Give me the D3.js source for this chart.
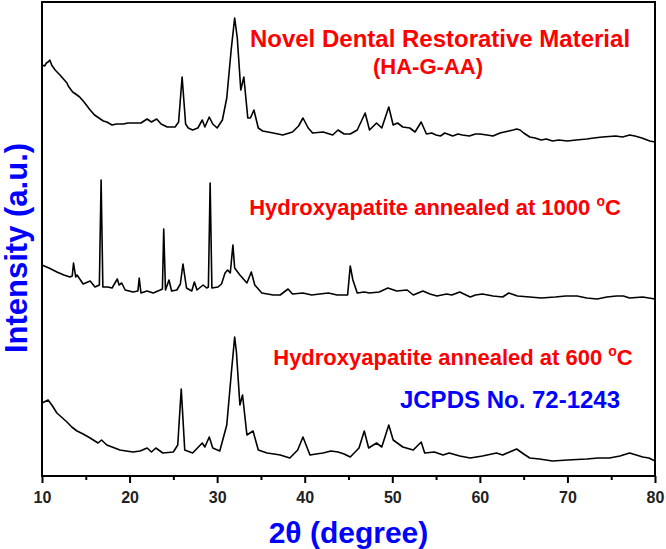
<!DOCTYPE html>
<html>
<head>
<meta charset="utf-8">
<script src="https://cdn.jsdelivr.net/npm/d3@7"></script>
<style>
    body { margin: 0; background: #fff; }
    text { font-family: Arial, "Liberation Sans", sans-serif; font-weight: bold; }
</style>
</head>
<body>
<div id="xrd"></div>
<script>
//----------------------------
// Data (2theta, stacked intensity a.u.)
//----------------------------
var haGaaData = [
    [10.0, 411], [10.3, 410], [10.5, 413], [10.7, 414], [10.9, 416], [11.1, 411], [11.5, 406],
    [12.05, 401], [12.85, 393], [13.0, 390], [13.5, 384], [14.0, 381], [14.3, 379], [14.8, 374],
    [15.5, 366], [15.8, 363], [16.0, 361], [16.5, 358], [17.0, 355], [17.4, 354], [18.0, 351],
    [18.5, 352], [19.3, 352], [19.8, 353], [20.4, 353], [21.3, 353], [22.0, 357], [22.5, 354],
    [23.1, 357], [23.6, 352], [24.3, 349], [25.2, 349], [25.6, 354], [26.0, 399], [26.4, 352],
    [26.7, 348], [27.2, 346], [27.8, 348], [28.3, 356], [28.6, 349], [29.1, 359], [29.5, 352],
    [30.0, 348], [30.6, 356], [31.1, 378], [31.6, 426], [32.0, 458], [32.3, 438], [32.7, 386],
    [33.05, 399], [33.5, 358], [33.8, 358], [34.2, 366], [34.7, 348], [35.2, 345], [36.4, 343],
    [37.5, 341], [38.6, 344], [39.3, 350], [39.8, 358], [40.4, 348], [40.9, 343], [42.1, 344],
    [43.2, 341], [43.8, 346], [44.5, 342], [45.2, 342], [46.0, 346], [46.9, 363], [47.4, 346],
    [48.2, 353], [48.8, 348], [49.6, 369], [50.1, 351], [50.6, 353], [51.2, 349], [52.0, 348],
    [52.6, 344], [53.3, 354], [53.9, 342], [54.5, 343], [55.0, 341], [55.5, 340], [56.0, 343],
    [56.9, 340], [57.5, 342], [58.0, 341], [58.8, 340], [59.5, 342], [60.0, 342], [60.8, 341],
    [61.5, 340], [62.3, 343], [63.3, 345], [63.8, 346], [64.2, 347], [64.6, 346], [65.0, 343],
    [65.7, 339], [66.3, 338], [67.0, 336], [67.6, 337], [68.3, 335], [69.0, 336], [70.0, 335],
    [71.0, 336], [72.2, 337], [73.0, 338], [74.0, 339], [75.5, 340], [76.3, 339], [77.1, 341],
    [77.7, 340], [78.5, 338], [79.4, 335], [80.0, 334]
];

var ha1000Data = [
    [10.0, 211], [10.8, 208], [11.7, 204], [12.5, 201], [13.2, 199], [13.45, 200], [13.6, 213],
    [13.85, 199], [14.0, 201], [14.7, 192], [15.5, 195], [16.05, 189], [16.55, 191], [16.75, 296],
    [16.95, 189], [17.5, 189], [18.0, 188], [18.6, 197], [18.8, 191], [19.1, 193], [19.5, 186],
    [20.4, 184], [20.95, 185], [21.1, 198], [21.3, 183], [22.0, 185], [22.7, 183], [23.5, 186],
    [23.75, 187], [23.9, 247], [24.1, 186], [24.5, 196], [24.8, 185], [25.4, 186], [25.8, 192],
    [26.1, 212], [26.5, 188], [27.1, 185], [27.4, 194], [27.7, 186], [28.4, 191], [28.8, 188],
    [29.0, 189], [29.2, 293], [29.4, 188], [30.1, 189], [30.5, 192], [30.9, 203], [31.2, 206],
    [31.5, 203], [31.8, 231], [32.0, 208], [32.6, 201], [33.4, 193], [33.9, 204], [34.3, 191],
    [35.1, 183], [36.4, 181], [37.2, 181], [38.1, 187], [38.6, 182], [39.8, 183], [40.8, 181],
    [41.7, 182], [42.7, 183], [43.7, 181], [44.9, 181], [45.2, 210], [45.5, 196], [46.0, 183],
    [46.8, 184], [47.4, 183], [48.5, 184], [49.5, 188], [50.5, 185], [51.7, 186], [52.4, 181],
    [53.5, 185], [54.3, 182], [55.1, 180], [56.2, 182], [56.8, 181], [57.7, 184], [58.9, 179],
    [59.5, 181], [60.3, 182], [61.5, 180], [62.6, 179], [63.3, 183], [64.3, 180], [65.7, 179],
    [67.0, 178], [68.6, 179], [69.8, 180], [71.1, 180], [72.2, 178], [73.4, 177], [74.5, 179],
    [75.6, 180], [76.4, 180], [77.1, 178], [78.6, 179], [79.3, 178], [80.0, 177]
];

var ha600Data = [
    [10.0, 73], [10.7, 76], [11.2, 70], [11.7, 63], [12.85, 54], [13.4, 49], [14.0, 45],
    [14.7, 42], [15.5, 38], [16.4, 33], [16.8, 36], [17.4, 31], [18.9, 26], [19.6, 25],
    [20.4, 24], [21.2, 25], [22.0, 28], [22.5, 24], [23.0, 28], [23.8, 23], [25.0, 24],
    [25.5, 31], [25.9, 87], [26.3, 26], [27.2, 23], [28.3, 33], [28.6, 29], [29.1, 39],
    [29.5, 28], [30.3, 25], [31.1, 51], [31.6, 101], [32.0, 139], [32.2, 124], [32.6, 71],
    [32.9, 81], [33.4, 41], [34.1, 45], [34.7, 26], [35.7, 23], [36.5, 22], [37.2, 21],
    [38.3, 18], [39.2, 26], [39.8, 39], [40.6, 21], [41.3, 22], [42.1, 23], [43.0, 25],
    [43.8, 24], [44.5, 22], [45.2, 19], [46.2, 28], [46.8, 45], [47.3, 28], [48.2, 33],
    [48.8, 29], [49.6, 51], [50.1, 36], [51.2, 29], [52.4, 26], [53.3, 34], [53.7, 23],
    [54.8, 24], [55.8, 21], [56.5, 23], [57.7, 20], [58.9, 18], [60.3, 20], [61.9, 23],
    [62.6, 21], [63.4, 24], [64.2, 27], [65.0, 22], [65.7, 18], [66.8, 17], [68.3, 15],
    [70.0, 16], [72.2, 17], [73.5, 18], [74.8, 18], [76.0, 20], [77.1, 23], [78.6, 19],
    [79.3, 18], [80.0, 15]
];

var xTickValues = [10, 20, 30, 40, 50, 60, 70, 80];
var xMinorTicks = [15, 25, 35, 45, 55, 65, 75];
var xTitle = "2\u03B8 (degree)";
var yTitle = "Intensity (a.u.)";

//----------------------------
// Dimensions
//----------------------------
var width = 666, height = 549;
var margin = {top: 2, right: 11, bottom: 73, left: 42},
    pWidth = width - margin.left - margin.right,
    pHeight = height - margin.top - margin.bottom;

var svg = d3.select("#xrd")
    .append("svg")
    .attr("width", width)
    .attr("height", height);

var g = svg.append("g")
    .attr("transform", "translate(" + margin.left + "," + margin.top + ")");

// scales
var xScale = d3.scaleLinear().domain([10, 80]).range([0, pWidth]);
var yScale = d3.scaleLinear().domain([0, pHeight]).range([pHeight, 0]);

var line = d3.line()
    .x(d => xScale(d[0]))
    .y(d => yScale(d[1]));

//----------------------------
// Traces
//----------------------------
[haGaaData, ha1000Data, ha600Data].forEach(function (series) {
    g.append("path")
        .datum(series)
        .attr("fill", "none")
        .attr("stroke", "#000")
        .attr("stroke-width", 1.6)
        .attr("stroke-linejoin", "round")
        .attr("d", line);
});

//----------------------------
// Frame and bottom axis
//----------------------------
g.append("rect")
    .attr("width", pWidth)
    .attr("height", pHeight)
    .attr("fill", "none")
    .attr("stroke", "#000")
    .attr("stroke-width", 2);

var xAxis = g.append("g")
    .attr("transform", "translate(0," + pHeight + ")")
    .call(d3.axisBottom(xScale).tickValues(xTickValues).tickSize(7).tickPadding(9));

xAxis.select(".domain").remove();
xAxis.selectAll("line").attr("stroke-width", 2);
xAxis.selectAll("text")
    .attr("font-size", 16)
    .attr("font-family", "Arial, 'Liberation Sans', sans-serif")
    .attr("font-weight", "bold")
    .attr("fill", "#222");

g.append("g")
    .attr("transform", "translate(0," + pHeight + ")")
    .call(d3.axisBottom(xScale).tickValues(xMinorTicks).tickSize(4).tickFormat(""))
    .call(a => a.select(".domain").remove())
    .selectAll("line").attr("stroke-width", 2);

// axis titles
svg.append("text")
    .attr("x", margin.left + pWidth / 2)
    .attr("y", 543)
    .attr("text-anchor", "middle")
    .attr("font-size", 30)
    .attr("fill", "#0000ff")
    .text(xTitle);

svg.append("text")
    .attr("transform", "translate(27,248) rotate(-90)")
    .attr("text-anchor", "middle")
    .attr("font-size", 31)
    .attr("fill", "#0000ff")
    .text(yTitle);

//----------------------------
// Labels
//----------------------------
svg.append("text")
    .attr("x", 440).attr("y", 47)
    .attr("text-anchor", "middle")
    .attr("font-size", 24)
    .attr("fill", "#ff0000")
    .text("Novel Dental Restorative Material");

svg.append("text")
    .attr("x", 428).attr("y", 74)
    .attr("text-anchor", "middle")
    .attr("font-size", 22)
    .attr("fill", "#ff0000")
    .text("(HA-G-AA)");

function degreeLabel(x, y, main) {
    let t = svg.append("text")
        .attr("x", x).attr("y", y)
        .attr("text-anchor", "middle")
        .attr("font-size", 22)
        .attr("fill", "#ff0000");
    t.append("tspan").text(main + " ");
    t.append("tspan").attr("font-size", 14).attr("dy", -9).text("o");
    t.append("tspan").attr("dy", 9).text("C");
}

degreeLabel(435, 215, "Hydroxyapatite annealed at 1000");
degreeLabel(453, 365, "Hydroxyapatite annealed at 600");

svg.append("text")
    .attr("x", 510).attr("y", 408)
    .attr("text-anchor", "middle")
    .attr("font-size", 24)
    .attr("fill", "#0000ff")
    .text("JCPDS No. 72-1243");
</script>
</body>
</html>
